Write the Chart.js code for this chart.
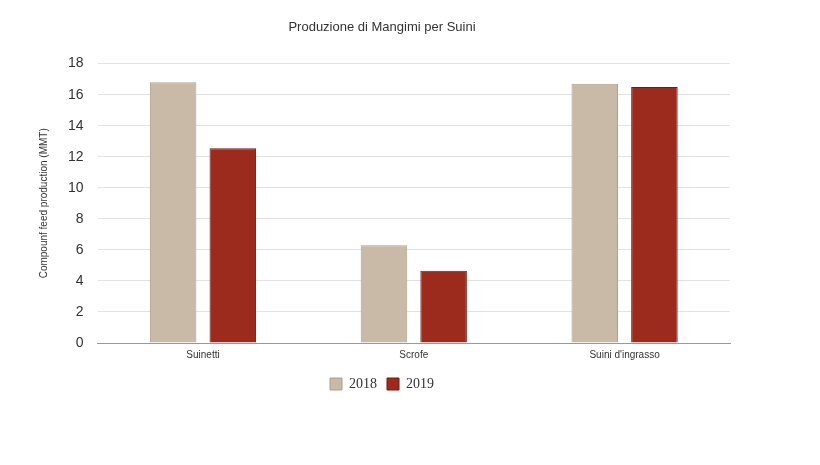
<!DOCTYPE html>
<html>
<head>
<meta charset="utf-8">
<script src="https://cdn.jsdelivr.net/npm/chart.js@4"></script>
<style>
  body { margin: 0; background: #fff; }
  #wrap { width: 820px; height: 465px; }
</style>
</head>
<body>
<div id="wrap"><canvas id="chart"></canvas></div>
<script>
const categories = ['Suinetti', 'Scrofe', "Suini d'ingrasso"];
const values2018 = [16.8, 6.3, 16.7];
const values2019 = [12.55, 4.65, 16.5];
const seriesLabels = ['2018', '2019'];

new Chart(document.getElementById('chart'), {
    type: 'bar',
    data: {
        labels: categories,
        datasets: [
            { label: seriesLabels[0], data: values2018, backgroundColor: '#c8baa6', borderColor: '#ad9f8a', borderWidth: 1 },
            { label: seriesLabels[1], data: values2019, backgroundColor: '#9c2b1e', borderColor: '#741a10', borderWidth: 1 }
        ]
    },
    options: {
        responsive: true,
        maintainAspectRatio: false,
        animation: false,
        devicePixelRatio: 1,
        categoryPercentage: 0.566,
        barPercentage: 0.78,
        layout: { padding: { left: 34, right: 90, top: 10, bottom: 64 } },
        plugins: {
            title: {
                display: true,
                text: 'Produzione di Mangimi per Suini',
                color: '#333',
                font: { family: 'Arial, Liberation Sans', size: 13, weight: 'normal' },
                padding: { top: 10, bottom: 28 }
            },
            legend: {
                position: 'bottom',
                labels: {
                    boxWidth: 12, boxHeight: 12, padding: 10,
                    color: '#333',
                    font: { family: 'Liberation Serif, Times New Roman', size: 14 }
                }
            },
            tooltip: { enabled: false }
        },
        scales: {
            x: {
                grid: { display: false, drawTicks: false },
                border: { color: '#999' },
                ticks: { color: '#333', padding: 6, font: { family: 'Arial, Liberation Sans', size: 10 } }
            },
            y: {
                min: 0, max: 18,
                ticks: { stepSize: 2, color: '#333', padding: 14, font: { family: 'Arial, Liberation Sans', size: 14 } },
                grid: { color: '#e2e2e2', drawTicks: false },
                border: { display: false },
                title: {
                    display: true,
                    text: 'Compounf feed production (MMT)',
                    color: '#333',
                    font: { family: 'Arial, Liberation Sans', size: 10 }
                }
            }
        }
    }
});
</script>
</body>
</html>
